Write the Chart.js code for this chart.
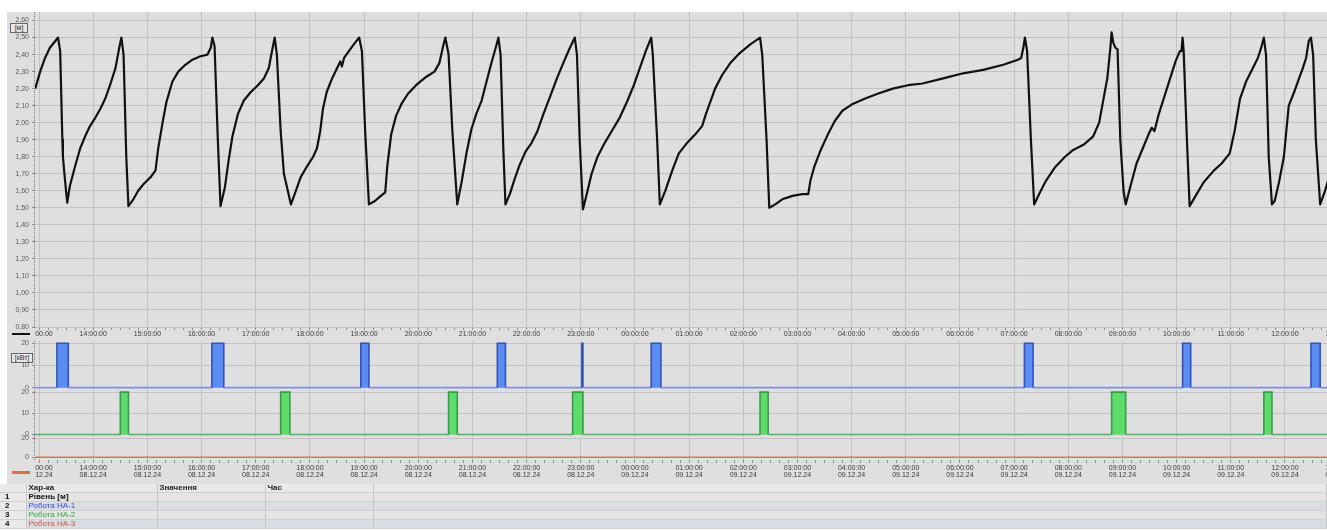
<!DOCTYPE html>
<html>
<head>
<meta charset="utf-8">
<script src="https://cdn.jsdelivr.net/npm/chart.js@4.4.1/dist/chart.umd.min.js"></script>
<style>
  html, body { margin:0; padding:0; }
  body { width:1327px; height:530px; overflow:hidden; background:#fff; position:relative;
         font-family:'Liberation Sans', Arial, sans-serif; }
  #bg { position:absolute; left:7px; top:12px; width:1320px; height:472px; background:#dfdfdf; }
  canvas { position:absolute; left:7px; }
  .unit { position:absolute; font-size:7px; line-height:8px; color:#333; border:1px solid #666;
          background:#e6e6e6; text-align:center; }
  .swatch { position:absolute; left:12px; width:18px; }
  .axisline { position:absolute; left:34px; width:0; border-left:1px dotted #7c7c7c; }
  #tbl { position:absolute; left:0; top:484px; width:1327px; border-collapse:collapse;
         font-size:8px; table-layout:fixed; }
  #tbl td { height:8px; line-height:8px; padding:0 2px; border-right:1px solid #c4c4c4;
            border-bottom:1px solid #d0d0d0; white-space:nowrap; overflow:hidden; }
  #tbl tr.hd td { background:#e9e9e9; font-weight:bold; color:#222; }
  #tbl tr.odd td { background:#e4e4e4; }
  #tbl tr.even td { background:#d9dce2; }
  #tbl td.n { font-weight:bold; color:#111; background:#e9e9e9 !important; padding-left:5px; }
</style>
</head>
<body>
<div id="bg"></div>
<div class="axisline" style="top:12px;height:315px;"></div>
<div class="axisline" style="top:341px;height:119px;"></div>
<canvas id="cA" width="1338" height="330" style="top:12px"></canvas>
<canvas id="cB" width="1338" height="54" style="top:335px"></canvas>
<canvas id="cC" width="1338" height="52" style="top:385px"></canvas>
<canvas id="cD" width="1338" height="50" style="top:433px"></canvas>
<div class="unit" style="left:10px;top:23px;width:16px;">[м]</div>
<div class="unit" style="left:11px;top:353px;width:20px;">[кВт]</div>
<div class="swatch" style="top:333px;height:2px;background:#111;"></div>
<div class="swatch" style="top:471px;height:3px;background:#e06a55;"></div>

<table id="tbl">
  <colgroup><col style="width:26px"><col style="width:131px"><col style="width:108px"><col style="width:108px"><col></colgroup>
  <tr class="hd"><td class="n"></td><td>Хар-ка</td><td>Значення</td><td>Час</td><td></td></tr>
  <tr class="odd"><td class="n">1</td><td style="font-weight:bold;color:#111">Рівень [м]</td><td></td><td></td><td></td></tr>
  <tr class="even"><td class="n">2</td><td style="color:#3550c8">Робота НА-1</td><td></td><td></td><td></td></tr>
  <tr class="odd"><td class="n">3</td><td style="color:#2fa845">Робота НА-2</td><td></td><td></td><td></td></tr>
  <tr class="even"><td class="n">4</td><td style="color:#c8553f">Робота НА-3</td><td></td><td></td><td></td></tr>
</table>

<script>
// ---- DATA (time in hours from 08.12.24 00:00) ----
const levelTime = [
  12.93,13.02,13.11,13.20,13.30,13.35,13.39,13.43,13.44,13.48,13.52,13.57,13.67,13.76,13.85,13.94,
  14.04,14.13,14.22,14.31,14.41,14.48,14.52,14.56,14.61,14.65,14.74,14.83,14.93,15.06,15.15,15.20,
  15.28,15.35,15.46,15.57,15.70,15.83,15.98,16.11,16.17,16.20,16.24,16.30,16.35,16.43,16.50,16.57,
  16.67,16.78,16.91,17.04,17.15,17.24,17.30,17.35,17.39,17.46,17.52,17.65,17.74,17.83,17.94,18.06,
  18.13,18.19,18.24,18.31,18.41,18.50,18.56,18.59,18.63,18.72,18.81,18.91,18.96,19.02,19.09,19.20,
  19.31,19.39,19.43,19.50,19.59,19.69,19.81,19.96,20.15,20.30,20.39,20.46,20.50,20.56,20.63,20.72,
  20.80,20.89,20.98,21.07,21.17,21.26,21.35,21.43,21.48,21.52,21.57,21.61,21.69,21.78,21.87,21.98,
  22.09,22.20,22.31,22.43,22.56,22.69,22.80,22.89,22.93,22.98,23.04,23.11,23.20,23.31,23.44,23.57,
  23.72,23.85,23.98,24.09,24.20,24.30,24.33,24.41,24.46,24.56,24.69,24.81,24.96,25.11,25.24,25.31,
  25.39,25.48,25.61,25.76,25.94,26.13,26.31,26.35,26.43,26.48,26.59,26.72,26.91,27.09,27.20,27.24,
  27.31,27.43,27.56,27.69,27.83,28.02,28.24,28.48,28.76,29.04,29.31,29.69,30.06,30.43,30.80,31.07,
  31.13,31.17,31.20,31.24,31.31,31.37,31.46,31.59,31.76,31.94,32.09,32.28,32.46,32.57,32.65,32.72,
  32.78,32.80,32.83,32.87,32.91,32.96,33.02,33.06,33.15,33.26,33.39,33.48,33.54,33.59,33.67,33.76,
  33.87,33.98,34.06,34.09,34.11,34.13,34.19,34.24,34.35,34.50,34.69,34.83,34.98,35.07,35.17,35.28,
  35.39,35.50,35.57,35.61,35.65,35.70,35.76,35.81,35.89,35.98,36.07,36.17,36.26,36.33,36.39,36.44,
  36.48,36.52,36.57,36.65,36.74,36.85,37.00,37.11
];
const levelValue = [
  2.20,2.30,2.38,2.44,2.48,2.50,2.42,1.90,1.80,1.66,1.53,1.63,1.75,1.85,1.92,1.98,
  2.03,2.08,2.14,2.22,2.32,2.44,2.50,2.40,1.80,1.51,1.55,1.60,1.64,1.68,1.72,1.85,
  2.00,2.12,2.24,2.30,2.34,2.37,2.39,2.40,2.44,2.50,2.45,1.90,1.51,1.62,1.78,1.92,
  2.05,2.13,2.18,2.22,2.26,2.32,2.42,2.50,2.40,1.95,1.70,1.52,1.60,1.68,1.74,1.80,
  1.85,1.95,2.08,2.18,2.26,2.32,2.36,2.33,2.38,2.42,2.46,2.50,2.42,1.95,1.52,1.54,
  1.57,1.59,1.75,1.93,2.04,2.11,2.17,2.22,2.27,2.30,2.35,2.45,2.50,2.40,1.95,1.52,
  1.65,1.82,1.96,2.05,2.13,2.24,2.35,2.44,2.50,2.40,1.85,1.52,1.58,1.67,1.75,1.83,
  1.88,1.95,2.05,2.15,2.26,2.36,2.44,2.50,2.40,1.90,1.49,1.58,1.70,1.80,1.88,1.95,
  2.03,2.12,2.22,2.32,2.42,2.50,2.40,1.90,1.52,1.60,1.72,1.82,1.88,1.93,1.98,2.05,
  2.12,2.20,2.28,2.35,2.41,2.46,2.50,2.40,1.90,1.50,1.52,1.55,1.57,1.58,1.58,1.66,
  1.74,1.84,1.93,2.01,2.07,2.11,2.14,2.17,2.20,2.22,2.23,2.26,2.29,2.31,2.34,2.37,
  2.38,2.44,2.50,2.42,1.90,1.52,1.58,1.66,1.74,1.80,1.84,1.87,1.92,2.00,2.14,2.26,
  2.45,2.53,2.47,2.44,2.43,1.90,1.60,1.52,1.63,1.76,1.86,1.93,1.97,1.95,2.05,2.14,
  2.25,2.36,2.42,2.42,2.50,2.42,1.90,1.51,1.57,1.65,1.72,1.76,1.82,1.95,2.14,2.24,
  2.31,2.38,2.45,2.50,2.40,1.80,1.52,1.54,1.65,1.80,2.10,2.18,2.26,2.32,2.38,2.48,
  2.50,2.40,1.90,1.52,1.60,1.72,1.85,1.92
];
// pump runs: start / stop (hours), power while running (kW)
const ha1On  = [13.33, 16.19, 18.94, 21.46, 23.02, 24.30, 31.19, 34.11, 36.48];
const ha1Off = [13.54, 16.41, 19.09, 21.61, 23.04, 24.48, 31.35, 34.26, 36.65];
const ha2On  = [14.50, 17.46, 20.56, 22.85, 26.31, 32.80, 35.61];
const ha2Off = [14.65, 17.63, 20.72, 23.04, 26.46, 33.06, 35.76];
const ha3On  = [];
const ha3Off = [];
const pumpPower = 20;
const dayLabels = ['08.12.24', '09.12.24'];

// ---- view ----
const X_MIN = 775.5, X_MAX = 2226.5;   // minutes
const FONT = "'Liberation Sans', Arial, sans-serif";
const GRID = '#c2c2c2';

function hourText(v) { const h = Math.round(v / 60); return String(h % 24).padStart(2, '0') + ':00:00'; }
function dayText(v) { return dayLabels[Math.round(v / 60) >= 24 ? 1 : 0]; }

function xScale(mode) { // 0 none, 1 time, 2 time+date
  const hMap = [0, 15, 23];
  return {
    type: 'linear', min: X_MIN, max: X_MAX, bounds: 'ticks',
    ticks: {
      display: mode !== 0, stepSize: 10, includeBounds: false, autoSkip: false, maxTicksLimit: 1000,
      maxRotation: 0, minRotation: 0, padding: mode === 2 ? 2 : 1, color: '#3a3a3a',
      font: { family: FONT, size: 7, lineHeight: 1 },
      callback: v => (Math.round(v) % 60 !== 0) ? '' : (mode === 2 ? [hourText(v), dayText(v)] : hourText(v))
    },
    grid: {
      color: c => (c.tick && Math.round(c.tick.value) % 60 === 0) ? GRID : 'rgba(0,0,0,0)',
      tickColor: '#8c8c8c', tickLength: 3, drawTicks: mode !== 0, lineWidth: 1
    },
    border: { display: false },
    afterFit: s => { s.paddingLeft = 0; s.paddingRight = 0; s.height = hMap[mode]; }
  };
}
function yScale(min, max, step, fmt) {
  return {
    type: 'linear', min, max, bounds: 'ticks',
    ticks: { stepSize: step, includeBounds: false, padding: 3, color: '#5a5a5a',
             font: { family: FONT, size: 7, lineHeight: 1 }, callback: fmt },
    grid: { color: GRID, lineWidth: 1, tickColor: '#8c8c8c', tickLength: 3 },
    border: { display: false },
    afterFit: s => { s.width = 28; s.paddingTop = 0; s.paddingBottom = 0; }
  };
}
const clipLabels = {
  id: 'clipLabels',
  beforeDraw(chart) {
    const s = chart.scales.x;
    if (s && !s.__clipped) {
      const orig = s.drawLabels;
      s.drawLabels = function (area) {
        const ctx = this.ctx;
        ctx.save(); ctx.beginPath();
        ctx.rect(chart.chartArea.left, 0, chart.width, chart.height); ctx.clip();
        orig.call(this, area); ctx.restore();
      };
      s.__clipped = true;
    }
  }
};
function baseOptions(x, y, padTop) {
  return {
    responsive: false, animation: false, layout: { padding: { top: padTop || 0, left: 0, right: 0, bottom: 0 } },
    plugins: { legend: { display: false }, tooltip: { enabled: false } },
    scales: { x, y }
  };
}
function pumpPoints(on, off) {
  const pts = [{ x: X_MIN - 5, y: 0 }];
  on.forEach((t, i) => {
    pts.push({ x: t * 60, y: 0 }, { x: t * 60, y: pumpPower },
             { x: off[i] * 60, y: pumpPower }, { x: off[i] * 60, y: 0 });
  });
  pts.push({ x: X_MAX + 5, y: 0 });
  return pts;
}
function pumpDataset(on, off, fill, edge, base) {
  return {
    data: pumpPoints(on, off), pointRadius: 0, borderWidth: 1.6, tension: 0,
    fill: 'origin', backgroundColor: fill, borderColor: edge,
    segment: { borderColor: c => (c.p0.parsed.y === 0 && c.p1.parsed.y === 0) ? base : edge }
  };
}

// Level chart
new Chart(document.getElementById('cA'), {
  type: 'line',
  data: { datasets: [{
    data: levelTime.map((t, i) => ({ x: t * 60, y: levelValue[i] })),
    borderColor: '#111', borderWidth: 2.2, pointRadius: 0, tension: 0, borderJoinStyle: 'round', fill: false
  }] },
  options: baseOptions(xScale(1), yScale(0.8, 2.65, 0.1, v => v.toFixed(2).replace('.', ','))),
  plugins: [clipLabels]
});
// НА-1
new Chart(document.getElementById('cB'), {
  type: 'line',
  data: { datasets: [pumpDataset(ha1On, ha1Off, '#5b8cf2', '#3352b5', '#7d8fd6')] },
  options: baseOptions(xScale(0), yScale(-0.6, 21, 10, v => String(v)), 6)
});
// НА-2
new Chart(document.getElementById('cC'), {
  type: 'line',
  data: { datasets: [pumpDataset(ha2On, ha2Off, '#5ddc6c', '#389c47', '#55b062')] },
  options: baseOptions(xScale(0), yScale(-1.2, 21, 10, v => String(v)), 5)
});
// НА-3
new Chart(document.getElementById('cD'), {
  type: 'line',
  data: { datasets: [pumpDataset(ha3On, ha3Off, '#e88a7a', '#c8553f', '#cf7565')] },
  options: baseOptions(xScale(2), yScale(-3, 20.5, 20, v => String(v)), 5),
  plugins: [clipLabels]
});
</script>
</body>
</html>
